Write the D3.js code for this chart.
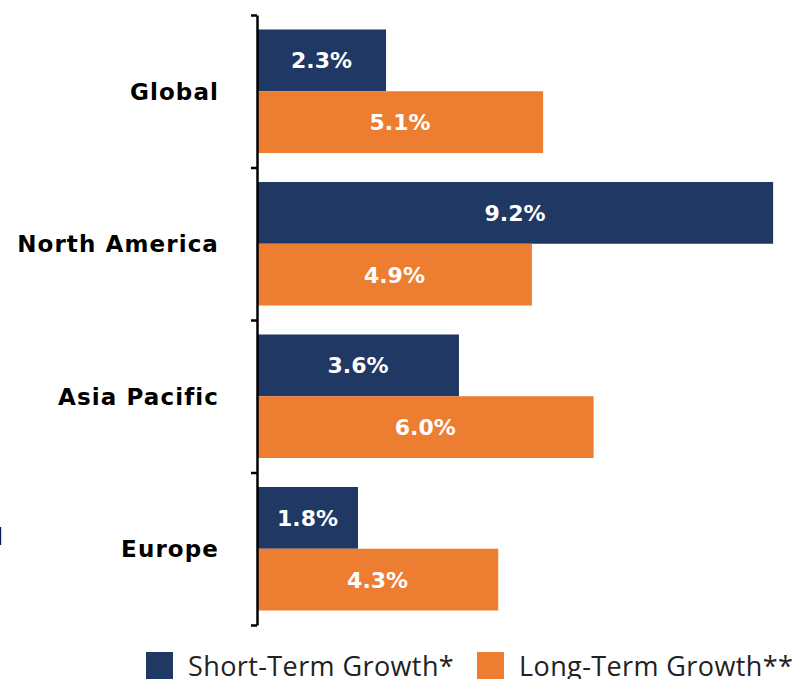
<!DOCTYPE html>
<html>
<head>
<meta charset="utf-8">
<script src="https://cdn.jsdelivr.net/npm/d3@7"></script>
<style>
  body { margin: 0; background: #fff; }
  svg { display: block; }
  .cat { font-family: "DejaVu Sans", sans-serif; font-weight: 700; font-size: 23px; letter-spacing: 1.1px; fill: #000; }
  .val { font-family: "DejaVu Sans", sans-serif; font-weight: 700; font-size: 22px; fill: #fff; }
  .leg { font-family: "Open Sans", sans-serif; font-size: 27px; letter-spacing: 0.4px; fill: #222; }
</style>
</head>
<body>
<div id="chart"></div>
<script>
var categories = ["Global", "North America", "Asia Pacific", "Europe"];
var seriesNames = ["Short-Term Growth*", "Long-Term Growth**"];
var shortTerm = [2.3, 9.2, 3.6, 1.8];
var longTerm = [5.1, 4.9, 6.0, 4.3];
var colors = ["#1f3864", "#ed7d31"];

var width = 811, height = 679;
var plotTop = 15, plotBottom = 625, plotLeft = 257;

var svg = d3.select("#chart").append("svg")
  .attr("width", width)
  .attr("height", height);

/* Scales */
var x = d3.scaleLinear().domain([0, 10]).range([plotLeft, plotLeft + 561]);

var y0 = d3.scaleBand()
  .domain(categories)
  .range([plotTop, plotBottom])
  .paddingInner(0.19)
  .paddingOuter(0.095);

var y1 = d3.scaleBand()
  .domain(seriesNames)
  .range([0, y0.bandwidth()]);

var data = categories.map(function(c, i) {
  return { cat: c, values: [
    { name: seriesNames[0], v: shortTerm[i], color: colors[0] },
    { name: seriesNames[1], v: longTerm[i], color: colors[1] }
  ]};
});

/* Bars */
var groups = svg.append("g").selectAll("g")
  .data(data).enter()
  .append("g")
  .attr("transform", d => `translate(0, ${y0(d.cat)})`);

groups.selectAll("rect")
  .data(d => d.values).enter()
  .append("rect")
  .attr("x", x(0))
  .attr("y", d => y1(d.name))
  .attr("width", d => x(d.v) - x(0))
  .attr("height", y1.bandwidth())
  .attr("fill", d => d.color);

groups.selectAll("text")
  .data(d => d.values).enter()
  .append("text")
  .attr("class", "val")
  .attr("x", d => (x(0) + x(d.v)) / 2)
  .attr("y", d => y1(d.name) + y1.bandwidth() / 2)
  .attr("dy", "0.36em")
  .attr("text-anchor", "middle")
  .text(d => d.v.toFixed(1) + "%");

/* Axis: ticks at category boundaries */
var sep = d3.scaleLinear().domain([0, categories.length]).range([plotTop, plotBottom]);
var yAxis = d3.axisLeft(sep)
  .tickValues(d3.range(categories.length + 1))
  .tickFormat("")
  .tickSize(6)
  .tickSizeOuter(0);

svg.append("g")
  .attr("transform", `translate(${plotLeft}, 0)`)
  .call(yAxis)
  .call(g => g.selectAll("line, path").attr("stroke", "#000").attr("stroke-width", 2.5));

/* Category labels */
svg.append("g").selectAll("text")
  .data(categories).enter()
  .append("text")
  .attr("class", "cat")
  .attr("x", 219)
  .attr("y", d => y0(d) + y0.bandwidth() / 2)
  .attr("dy", "0.36em")
  .attr("text-anchor", "end")
  .text(d => d);

/* Cut-off title at left edge */
svg.append("text")
  .attr("class", "cat")
  .attr("x", 4)
  .attr("y", 545)
  .attr("text-anchor", "end")
  .text("Regional");

/* Legend */
var legX = [146, 477];
var leg = svg.append("g").selectAll("g")
  .data(seriesNames).enter()
  .append("g")
  .attr("transform", (d, i) => `translate(${legX[i]}, 652)`);

leg.append("rect")
  .attr("width", 27)
  .attr("height", 27)
  .attr("fill", (d, i) => colors[i]);

leg.append("text")
  .attr("class", "leg")
  .attr("x", 42)
  .attr("y", 23.5)
  .text(d => d);
</script>
</body>
</html>
